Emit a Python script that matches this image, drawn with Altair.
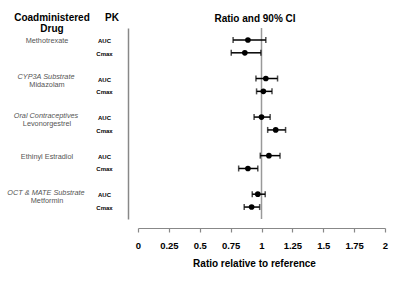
import altair as alt
import pandas as pd

drugs = ["Methotrexate", "Midazolam", "Levonorgestrel", "Ethinyl Estradiol", "Metformin"]
classes = ["", "CYP3A Substrate", "Oral Contraceptives", "", "OCT & MATE Substrate"]
pk_params = ["AUC", "Cmax"]
ratio_auc = [0.89, 1.035, 1.0, 1.06, 0.97]
lo_auc = [0.77, 0.955, 0.94, 0.99, 0.925]
hi_auc = [1.035, 1.13, 1.07, 1.15, 1.03]
ratio_cmax = [0.865, 1.015, 1.115, 0.89, 0.92]
lo_cmax = [0.755, 0.96, 1.05, 0.815, 0.86]
hi_cmax = [0.995, 1.085, 1.195, 0.97, 0.985]
tick_values = [0, 0.25, 0.5, 0.75, 1, 1.25, 1.5, 1.75, 2]

rows = []
for g, d in enumerate(drugs):
    for j, (p, r, lo, hi) in enumerate(zip(
            pk_params,
            [ratio_auc[g], ratio_cmax[g]],
            [lo_auc[g], lo_cmax[g]],
            [hi_auc[g], hi_cmax[g]])):
        rows.append({"drug": d, "pk": p, "slot": 3 * g + j,
                     "ratio": r, "lo": lo, "hi": hi})
df = pd.DataFrame(rows)

lab = pd.DataFrame({"drug": drugs, "cls": classes,
                    "slot": [3 * g for g in range(len(drugs))]})
lab_single = lab[lab["cls"] == ""]
lab_double = lab[lab["cls"] != ""]

FONT = "Liberation Sans"
ysc = alt.Scale(domain=[-0.93, 13.93], reverse=True, nice=False, zero=False)
xsc = alt.Scale(domain=[0, 2], nice=False)

y_axis = alt.Axis(labels=False, ticks=False, title=None, grid=False,
                  offset=10, domainColor="#888888", domainWidth=1.5)
x_axis = alt.Axis(values=tick_values, format=".2~f", grid=False,
                  labelOverlap=False, labelFlush=False,
                  offset=9, tickSize=4, domainColor="#888888",
                  tickColor="#888888", domainWidth=1.2, tickWidth=1.2,
                  labelFont=FONT, labelFontSize=9.5, labelFontWeight="bold",
                  labelColor="black", labelPadding=8,
                  title="Ratio relative to reference", titleFont=FONT,
                  titleFontSize=10, titleFontWeight="bold",
                  titleColor="black", titlePadding=9, titleX=116)


def X(field):
    return alt.X(field, scale=xsc, axis=x_axis)


def Y():
    return alt.Y("slot:Q", scale=ysc, axis=y_axis)


base = alt.Chart(df)

refline = alt.Chart(pd.DataFrame({"ref": [1]})).mark_rule(
    color="#999999", strokeWidth=1.5).encode(x=X("ref:Q"))

bars = base.mark_rule(color="black", strokeWidth=1.5).encode(
    x=X("lo:Q"), x2="hi:Q", y=Y())
cap_lo = base.mark_tick(color="black", orient="vertical", size=6, thickness=1.5).encode(
    x=X("lo:Q"), y=Y())
cap_hi = base.mark_tick(color="black", orient="vertical", size=6, thickness=1.5).encode(
    x=X("hi:Q"), y=Y())
points = base.mark_point(filled=True, shape="circle", size=32, color="black",
                         opacity=1).encode(x=X("ratio:Q"), y=Y())

pk_text = base.mark_text(font=FONT, fontSize=6, fontWeight="bold", color="black",
                         align="center", baseline="middle", dy=1).encode(
    x=alt.value(-33.5), y=Y(), text="pk:N")

single_text = alt.Chart(lab_single).mark_text(
    font=FONT, fontSize=7.3, color="#555555", align="center",
    baseline="middle", dy=1.5).encode(
    x=alt.value(-91), y=Y(), text="drug:N")
cls_text = alt.Chart(lab_double).mark_text(
    font=FONT, fontSize=7.3, color="#555555", fontStyle="italic", align="center",
    baseline="middle", dy=-1.5).encode(
    x=alt.value(-92), y=Y(), text="cls:N")
drug2_text = alt.Chart(lab_double).mark_text(
    font=FONT, fontSize=7.3, color="#555555", align="center",
    baseline="middle", dy=6.8).encode(
    x=alt.value(-91), y=Y(), text="drug:N")

headers = alt.Chart(pd.DataFrame({
    "t": ["Coadministered", "Drug", "PK", "Ratio and 90% CI"],
    "px": [-86, -86, -26, 117],
    "py": [-10, 1.3, -10, -9],
})).mark_text(font=FONT, fontSize=10, fontWeight="bold", color="black",
              align="center", baseline="middle").encode(
    x=alt.X("px:Q", scale=None), y=alt.Y("py:Q", scale=None), text="t:N")

chart = alt.layer(
    refline, bars, cap_lo, cap_hi, points, pk_text, single_text, cls_text,
    drug2_text, headers
).properties(
    width=247, height=191,
    autosize=alt.AutoSizeParams(type="none"),
    padding={"left": 138, "top": 28, "right": 15, "bottom": 65},
).configure_view(stroke=None)

chart.save("out.html", embed_options={"renderer": "svg", "actions": False})
